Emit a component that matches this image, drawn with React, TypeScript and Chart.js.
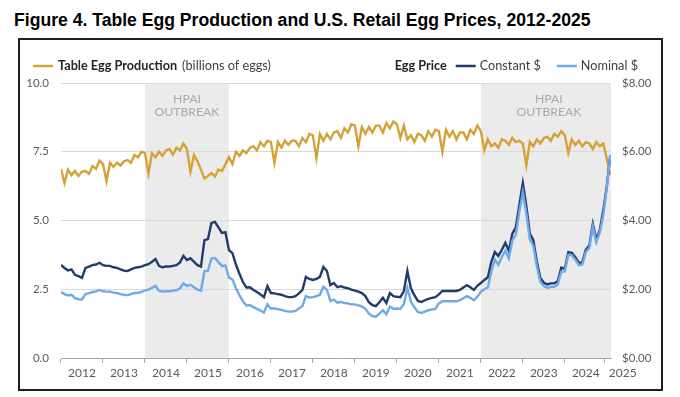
import React, { useEffect, useRef } from 'react';
import { Chart, registerables } from 'chart.js';

Chart.register(...registerables);

const START_YEAR = 2012;
const YEAR_LABELS = ['2012', '2013', '2014', '2015', '2016', '2017', '2018', '2019', '2020', '2021', '2022', '2023', '2024', '2025'];
const LEFT_TICKS = [0, 2.5, 5, 7.5, 10];
const RIGHT_TICKS = [0, 2, 4, 6, 8];
const HPAI_PERIODS = [
  [2014, 2016],
  [2022, 2025.1],
];
const HPAI_LABEL_X = [2015, 2023.62];

// Table egg production, billions of eggs, monthly Jan 2012 - Feb 2025
const PRODUCTION = [
  6.87, 6.36, 6.85, 6.65, 6.80, 6.62, 6.78, 6.80, 6.70, 6.98, 6.88, 7.18,
  7.05, 6.43, 7.10, 6.95, 7.10, 7.00, 7.15, 7.20, 7.10, 7.38, 7.30, 7.50,
  7.45, 6.70, 7.45, 7.30, 7.50, 7.35, 7.55, 7.60, 7.40, 7.65, 7.55, 7.80,
  7.60, 6.77, 7.38, 7.15, 6.85, 6.53, 6.62, 6.72, 6.60, 6.85, 6.80, 7.05,
  7.30, 7.05, 7.50, 7.35, 7.55, 7.45, 7.65, 7.70, 7.55, 7.85, 7.70, 7.90,
  7.85, 7.10, 7.85, 7.65, 7.90, 7.75, 7.90, 7.90, 7.70, 8.00, 7.85, 8.15,
  8.10, 7.27, 8.15, 7.90, 8.15, 7.95, 8.20, 8.25, 8.00, 8.35, 8.20, 8.50,
  8.45, 7.70, 8.40, 8.15, 8.40, 8.20, 8.45, 8.45, 8.20, 8.55, 8.35, 8.60,
  8.50, 8.00, 8.45, 7.95, 8.10, 7.85, 8.15, 8.10, 7.90, 8.25, 8.05, 8.30,
  8.25, 7.50, 8.30, 8.05, 8.25, 7.95, 8.20, 8.20, 7.95, 8.30, 8.15, 8.45,
  8.25, 7.55, 7.95, 7.70, 7.80, 7.65, 7.95, 7.90, 7.75, 8.00, 7.85, 7.90,
  7.80, 7.00, 7.85, 7.70, 7.95, 7.80, 8.00, 8.05, 7.90, 8.15, 8.05, 8.25,
  8.10, 7.45, 7.95, 7.75, 7.90, 7.70, 7.85, 7.80, 7.60, 7.85, 7.70, 7.80,
  7.25, 6.65,
];

// Egg price, constant dollars per dozen
const CONSTANT_PRICE = [
  2.71, 2.62, 2.55, 2.58, 2.42, 2.38, 2.33, 2.62, 2.66, 2.70, 2.72, 2.77,
  2.70, 2.68, 2.68, 2.64, 2.62, 2.58, 2.54, 2.53, 2.58, 2.62, 2.64, 2.66,
  2.70, 2.73, 2.80, 2.88, 2.68, 2.64, 2.66, 2.66, 2.68, 2.70, 2.78, 2.97,
  2.85, 2.90, 2.80, 2.70, 2.66, 3.43, 3.46, 3.93, 3.96, 3.80, 3.64, 3.66,
  3.14, 3.05, 2.72, 2.45, 2.21, 2.05, 2.06, 1.98, 1.92, 1.85, 1.77, 2.09,
  1.89, 1.88, 1.86, 1.84, 1.80, 1.77, 1.77, 1.80, 1.88, 1.98, 2.36, 2.30,
  2.27, 2.30, 2.36, 2.65, 2.53, 2.12, 2.18, 2.06, 2.09, 2.05, 2.03, 1.99,
  1.96, 1.93, 1.89, 1.80, 1.62, 1.54, 1.51, 1.62, 1.75, 1.60, 1.89, 1.80,
  1.78, 1.77, 1.95, 2.53, 2.03, 1.83, 1.66, 1.63, 1.68, 1.72, 1.75, 1.77,
  1.85, 1.95, 1.95, 1.95, 1.95, 1.95, 1.98, 2.05, 2.12, 2.06, 1.98, 2.10,
  2.18, 2.27, 2.35, 2.80, 3.08, 2.97, 3.15, 3.35, 3.12, 3.62, 3.80, 4.45,
  5.09, 4.42, 3.62, 3.43, 2.80, 2.33, 2.19, 2.14, 2.17, 2.17, 2.24, 2.63,
  2.59, 3.08, 3.06, 2.93, 2.77, 2.78, 3.15, 3.27, 3.90, 3.44, 3.72, 4.30,
  5.00, 5.90,
];

// Egg price, nominal dollars per dozen
const NOMINAL_PRICE = [
  1.92, 1.86, 1.82, 1.84, 1.74, 1.71, 1.70, 1.86, 1.89, 1.92, 1.94, 1.98,
  1.94, 1.93, 1.93, 1.90, 1.89, 1.86, 1.84, 1.83, 1.86, 1.89, 1.90, 1.92,
  1.97, 1.99, 2.04, 2.10, 1.96, 1.93, 1.94, 1.94, 1.96, 1.97, 2.03, 2.17,
  2.10, 2.13, 2.06, 1.99, 1.96, 2.52, 2.54, 2.89, 2.91, 2.79, 2.68, 2.69,
  2.34, 2.28, 2.03, 1.83, 1.65, 1.53, 1.54, 1.48, 1.43, 1.38, 1.32, 1.56,
  1.44, 1.44, 1.42, 1.40, 1.37, 1.35, 1.35, 1.37, 1.44, 1.51, 1.80, 1.76,
  1.77, 1.80, 1.84, 2.07, 1.98, 1.66, 1.70, 1.61, 1.63, 1.60, 1.59, 1.56,
  1.56, 1.53, 1.50, 1.43, 1.29, 1.22, 1.20, 1.29, 1.39, 1.27, 1.50, 1.43,
  1.44, 1.43, 1.57, 2.04, 1.64, 1.48, 1.34, 1.31, 1.35, 1.39, 1.41, 1.43,
  1.59, 1.65, 1.65, 1.65, 1.65, 1.65, 1.68, 1.74, 1.80, 1.75, 1.68, 1.78,
  1.93, 2.00, 2.05, 2.52, 2.86, 2.71, 2.94, 3.12, 2.90, 3.42, 3.59, 4.25,
  4.82, 4.21, 3.45, 3.27, 2.67, 2.22, 2.09, 2.04, 2.07, 2.07, 2.14, 2.51,
  2.52, 3.00, 2.99, 2.86, 2.70, 2.72, 3.08, 3.20, 3.82, 3.37, 3.65, 4.15,
  4.95, 5.90,
];

const GOLD = '#D4A238';
const NAVY = '#203C6B';
const LIGHT = '#6EA9E8';
const FONT = 'Lato, "Open Sans", sans-serif';
const AXIS_TEXT = '#595959';
const LEGEND_SIZE = 12.7;

function toPoints(values: number[]) {
  return values.map((v, i) => ({ x: START_YEAR + i / 12, y: v }));
}

const hpaiPlugin = {
  id: 'hpaiBands',
  beforeDraw(chart: any) {
    const { ctx, chartArea: ca, scales } = chart;
    const xs = scales.x;
    ctx.save();
    HPAI_PERIODS.forEach(([a, b], i) => {
      const x0 = Math.max(xs.getPixelForValue(a), ca.left);
      const x1 = Math.min(xs.getPixelForValue(b), ca.right);
      ctx.fillStyle = '#ebebeb';
      ctx.fillRect(x0, ca.top, x1 - x0, ca.bottom - ca.top);
      const cx = xs.getPixelForValue(HPAI_LABEL_X[i]);
      ctx.fillStyle = '#a9a9a9';
      ctx.font = `12.2px ${FONT}`;
      ctx.textAlign = 'center';
      ctx.textBaseline = 'middle';
      ctx.fillText('HPAI', cx, ca.top + 16);
      ctx.fillText('OUTBREAK', cx, ca.top + 29);
    });
    ctx.restore();
  },
};

const legendPlugin = {
  id: 'customLegend',
  afterDraw(chart: any) {
    const { ctx, chartArea: ca } = chart;
    const y = 26;
    ctx.save();
    ctx.textBaseline = 'middle';
    ctx.textAlign = 'left';
    ctx.lineWidth = 2.5;
    // left legend
    ctx.strokeStyle = GOLD;
    ctx.beginPath();
    ctx.moveTo(ca.left - 28, y);
    ctx.lineTo(ca.left - 8, y);
    ctx.stroke();
    ctx.font = `bold ${LEGEND_SIZE}px ${FONT}`;
    ctx.fillStyle = '#262626';
    const t1 = 'Table Egg Production';
    ctx.fillText(t1, ca.left - 3, y);
    const w1 = ctx.measureText(t1).width;
    ctx.font = `${LEGEND_SIZE}px ${FONT}`;
    ctx.fillStyle = '#404040';
    ctx.fillText('(billions of eggs)', ca.left - 3 + w1 + 5, y);

    // right legend, laid out from the right end
    let xr = ca.right + 27;
    ctx.font = `${LEGEND_SIZE}px ${FONT}`;
    const wNom = ctx.measureText('Nominal $').width;
    xr -= wNom;
    ctx.fillStyle = '#404040';
    ctx.fillText('Nominal $', xr, y);
    xr -= 4;
    ctx.strokeStyle = LIGHT;
    ctx.beginPath();
    ctx.moveTo(xr - 20, y);
    ctx.lineTo(xr, y);
    ctx.stroke();
    xr -= 20 + 16;
    const wCon = ctx.measureText('Constant $').width;
    xr -= wCon;
    ctx.fillText('Constant $', xr, y);
    xr -= 4;
    ctx.strokeStyle = NAVY;
    ctx.beginPath();
    ctx.moveTo(xr - 20, y);
    ctx.lineTo(xr, y);
    ctx.stroke();
    xr -= 20 + 9;
    ctx.font = `bold ${LEGEND_SIZE}px ${FONT}`;
    ctx.fillStyle = '#262626';
    const wEP = ctx.measureText('Egg Price').width;
    ctx.fillText('Egg Price', xr - wEP, y);
    ctx.restore();
  },
};

export default function App() {
  const ref = useRef<HTMLCanvasElement>(null);

  useEffect(() => {
    const canvas = ref.current;
    if (!canvas) return;
    const chart = new Chart(canvas, {
      type: 'line',
      data: {
        datasets: [
          {
            label: 'Nominal $',
            data: toPoints(NOMINAL_PRICE),
            borderColor: LIGHT,
            borderWidth: 2.4,
            pointRadius: 0,
            tension: 0,
            yAxisID: 'y1',
          },
          {
            label: 'Constant $',
            data: toPoints(CONSTANT_PRICE),
            borderColor: NAVY,
            borderWidth: 2.4,
            pointRadius: 0,
            tension: 0,
            yAxisID: 'y1',
          },
          {
            label: 'Table Egg Production',
            data: toPoints(PRODUCTION),
            borderColor: GOLD,
            borderWidth: 2.4,
            pointRadius: 0,
            tension: 0,
            yAxisID: 'y',
          },
        ],
      },
      options: {
        responsive: false,
        animation: false,
        devicePixelRatio: 1,
        layout: { padding: { top: 43, left: 0, right: 0, bottom: 0 } },
        plugins: { legend: { display: false }, tooltip: { enabled: false } },
        scales: {
          x: {
            type: 'linear',
            min: START_YEAR,
            max: 2025.1,
            afterBuildTicks: (scale: any) => {
              scale.ticks = YEAR_LABELS.map((y, i) => ({
                value: i === YEAR_LABELS.length - 1 ? Number(y) + 0.38 : Number(y) + 0.5,
              }));
            },
            afterFit: (scale: any) => {
              scale.height = 31;
            },
            ticks: {
              autoSkip: false,
              maxRotation: 0,
              padding: 3,
              color: AXIS_TEXT,
              font: { family: FONT, size: 12 },
              callback: (_v: any, i: number) => YEAR_LABELS[i],
            },
            grid: {
              offset: true,
              drawOnChartArea: false,
              tickLength: 5,
              color: '#a6a6a6',
              lineWidth: 1,
            },
            border: { color: '#a6a6a6', width: 1 },
          },
          y: {
            position: 'left',
            min: 0,
            max: 10,
            afterBuildTicks: (scale: any) => {
              scale.ticks = LEFT_TICKS.map((v) => ({ value: v }));
            },
            afterFit: (scale: any) => {
              scale.width = 41;
            },
            ticks: {
              padding: 12,
              color: AXIS_TEXT,
              font: { family: FONT, size: 11.5 },
              callback: (v: any) => Number(v).toFixed(1),
            },
            grid: {
              drawTicks: false,
              color: (c: any) => (c.tick && c.tick.value === 0 ? 'rgba(0,0,0,0)' : '#d9d9d9'),
              lineWidth: 1,
            },
            border: { display: false },
          },
          y1: {
            position: 'right',
            min: 0,
            max: 8,
            afterBuildTicks: (scale: any) => {
              scale.ticks = RIGHT_TICKS.map((v) => ({ value: v }));
            },
            afterFit: (scale: any) => {
              scale.width = 50;
            },
            ticks: {
              padding: 11,
              color: AXIS_TEXT,
              font: { family: FONT, size: 11.5 },
              callback: (v: any) => '$' + Number(v).toFixed(2),
            },
            grid: { drawOnChartArea: false, drawTicks: false },
            border: { display: false },
          },
        },
      },
      plugins: [hpaiPlugin, legendPlugin],
    } as any);
    return () => chart.destroy();
  }, []);

  return (
    <div style={{ position: 'relative', width: 664, height: 383 }}>
      <div
        style={{
          position: 'absolute',
          left: 6,
          top: 1,
          font: 'bold 17.6px "Liberation Sans", Arial, sans-serif',
          color: '#000',
          whiteSpace: 'nowrap',
          lineHeight: '22px',
        }}
      >
        Figure 4. Table Egg Production and U.S. Retail Egg Prices, 2012-2025
      </div>
      <div
        style={{
          position: 'absolute',
          left: 10,
          top: 30,
          width: 645,
          height: 353,
          border: '2px solid #1e1e1e',
          boxSizing: 'border-box',
        }}
      >
        <canvas ref={ref} width={641} height={349} style={{ display: 'block', width: 641, height: 349 }} />
      </div>
    </div>
  );
}
